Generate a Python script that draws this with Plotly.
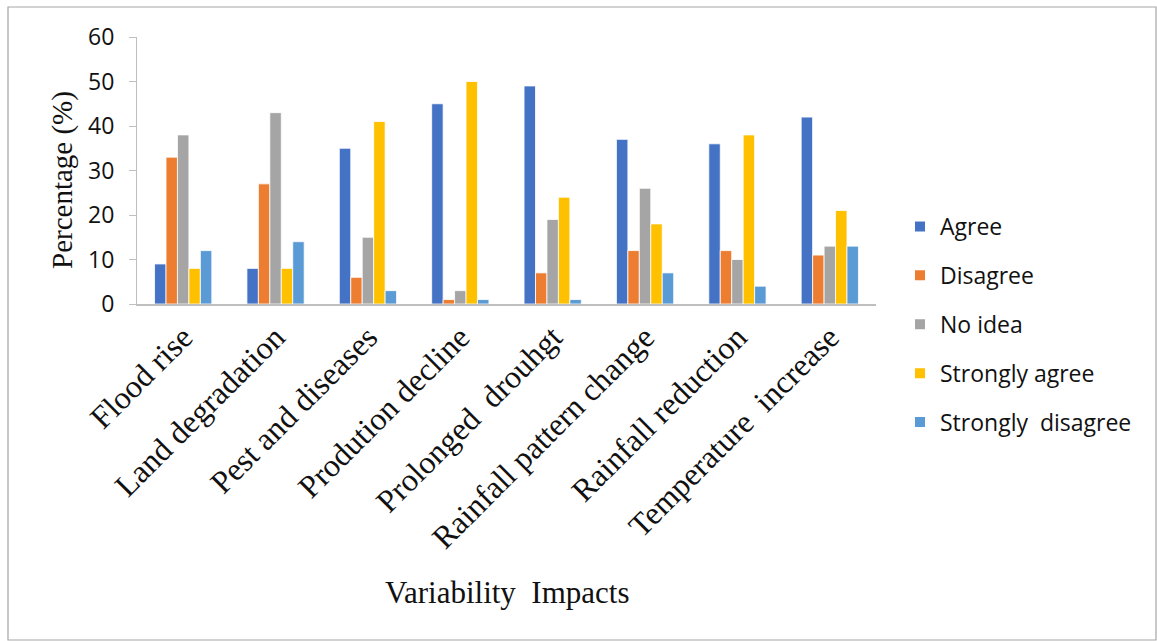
import plotly.graph_objects as go

# Variability impact categories (x axis)
categories = [
    "Flood rise",
    "Land degradation",
    "Pest and diseases",
    "Prodution decline",
    "Prolonged\u00a0 drouhgt",
    "Rainfall pattern change",
    "Rainfall reduction",
    "Temperature\u00a0 increase",
]

# Response percentages per category
agree = [9, 8, 35, 45, 49, 37, 36, 42]
disagree = [33, 27, 6, 1, 7, 12, 12, 11]
no_idea = [38, 43, 15, 3, 19, 26, 10, 13]
strongly_agree = [8, 8, 41, 50, 24, 18, 38, 21]
strongly_disagree = [12, 14, 3, 1, 1, 7, 4, 13]

series_names = ["Agree", "Disagree", "No idea", "Strongly agree", "Strongly\u00a0 disagree"]
series_values = [agree, disagree, no_idea, strongly_agree, strongly_disagree]
series_colors = ["#4472C4", "#ED7D31", "#A5A5A5", "#FFC000", "#5B9BD5"]

fig = go.Figure()
for i, (name, vals, col) in enumerate(zip(series_names, series_values, series_colors)):
    fig.add_trace(go.Bar(
        x=categories, y=vals, name=name,
        marker=dict(color=col, line=dict(color="white", width=0.8)),
        legendgroup=f"g{i}",
    ))

# plot-area geometry in pixels
L, R, T, B = 137, 281, 37, 337
W, H = 1157, 641
pw, ph = W - L - R, H - T - B

def px_x(x):
    return (x - L) / pw

def px_y(y):
    return (H - B - y) / ph

serif = "Liberation Serif, Times New Roman, serif"
sans = "Open Sans, Liberation Sans, sans-serif"

fig.update_layout(
    width=W, height=H,
    margin=dict(l=L, r=R, t=T, b=B, pad=0),
    paper_bgcolor="white", plot_bgcolor="white",
    barmode="group", bargap=0.38, bargroupgap=0,
    showlegend=True,
    legend=dict(
        x=px_x(900), y=px_y(205), xanchor="left", yanchor="top",
        font=dict(family=sans, size=23, color="#111"),
        tracegroupgap=16, itemsizing="constant",
    ),
    xaxis=dict(
        tickangle=-45, showline=True, linecolor="#BFBFBF", linewidth=1.5,
        ticks="", showgrid=False,
        tickfont=dict(family=serif, size=32, color="#111"),
    ),
    yaxis=dict(
        range=[0, 60], dtick=10, showline=True, linecolor="#BFBFBF", linewidth=1,
        ticks="outside", ticklen=7, tickcolor="#BFBFBF", showgrid=False, zeroline=False,
        ticklabelstandoff=10,
        tickfont=dict(family=sans, size=23, color="#111"),
    ),
    annotations=[
        dict(text="Percentage (%)", xref="paper", yref="paper",
             x=px_x(62), y=px_y(180), textangle=-90, showarrow=False,
             xanchor="center", yanchor="middle",
             font=dict(family=serif, size=29, color="#111")),
        dict(text="Variability\u00a0 Impacts", xref="paper", yref="paper",
             x=px_x(507), y=px_y(593), showarrow=False,
             xanchor="center", yanchor="middle",
             font=dict(family=serif, size=31, color="#111")),
    ],
    shapes=[
        dict(type="rect", xref="paper", yref="paper",
             x0=px_x(8), x1=px_x(1156), y0=px_y(640), y1=px_y(7),
             line=dict(color="#A6A6A6", width=1.2), fillcolor="rgba(0,0,0,0)", layer="below"),
    ],
)

fig.write_html("out.html")
